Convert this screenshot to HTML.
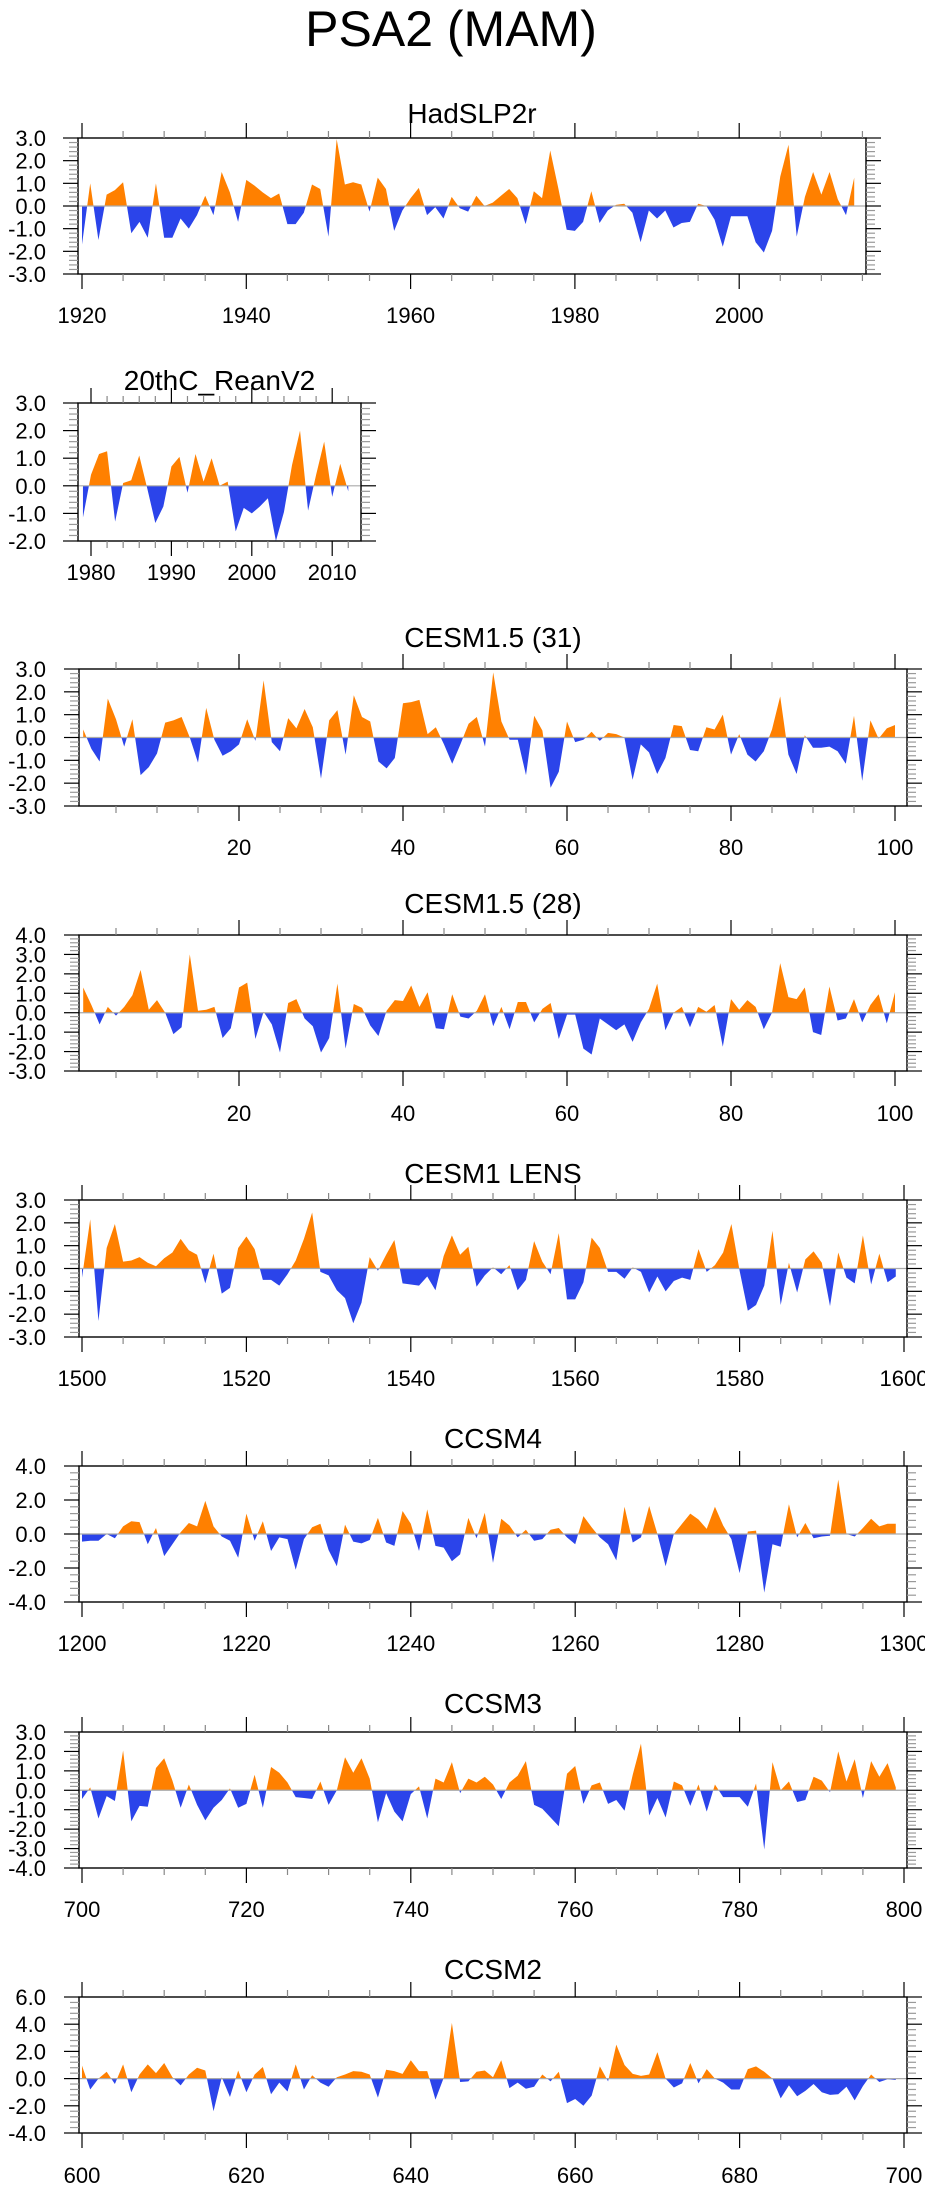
<!DOCTYPE html>
<html><head><meta charset="utf-8"><style>
html,body{margin:0;padding:0;background:#fff;}
svg{display:block;font-family:"Liberation Sans",Arial,sans-serif;}
</style></head><body>
<svg id="chart" width="925" height="2191" viewBox="0 0 925 2191" xmlns="http://www.w3.org/2000/svg">
<text x="451" y="46" font-size="50" text-anchor="middle" fill="#000">PSA2 (MAM)</text>
</svg>
<script>
const hadYears=[1920,2014];
const hadVals=[-1.7,1.0,-1.5,0.5,0.7,1.05,-1.2,-0.7,-1.4,1.0,-1.4,-1.4,-0.55,-1.0,-0.4,0.45,-0.4,1.5,0.6,-0.7,1.15,0.9,0.6,0.35,0.55,-0.8,-0.8,-0.3,0.95,0.75,-1.35,2.95,0.95,1.05,0.95,-0.25,1.25,0.75,-1.1,-0.2,0.35,0.8,-0.4,-0.05,-0.55,0.4,-0.1,-0.25,0.45,0.0,0.15,0.45,0.75,0.35,-0.8,0.65,0.35,2.45,0.75,-1.05,-1.1,-0.7,0.65,-0.75,-0.2,0.05,0.1,-0.3,-1.6,-0.2,-0.55,-0.2,-0.95,-0.75,-0.7,0.1,0.0,-0.6,-1.8,-0.45,-0.45,-0.45,-1.6,-2.05,-1.1,1.3,2.7,-1.35,0.4,1.5,0.5,1.5,0.3,-0.4,1.25];
const reanYears=[1979,2012];
const reanVals=[-1.15,0.4,1.15,1.25,-1.3,0.1,0.2,1.1,-0.1,-1.35,-0.75,0.7,1.05,-0.25,1.15,0.15,1.0,0.0,0.15,-1.65,-0.8,-1.0,-0.75,-0.45,-2.0,-0.95,0.75,2.0,-0.9,0.4,1.6,-0.4,0.8,-0.2];
const c31Years=[1,100];
const c31Vals=[0.35,-0.5,-1.05,1.7,0.8,-0.4,0.8,-1.65,-1.3,-0.7,0.65,0.75,0.9,0.0,-1.1,1.3,-0.1,-0.8,-0.6,-0.3,0.8,-0.15,2.5,-0.2,-0.6,0.85,0.4,1.25,0.45,-1.8,0.75,1.2,-0.75,1.85,0.9,0.7,-1.05,-1.35,-0.9,1.5,1.55,1.65,0.15,0.45,-0.3,-1.15,-0.3,0.6,0.9,-0.4,2.85,0.7,-0.1,-0.1,-1.65,0.95,0.3,-2.2,-1.5,0.7,-0.2,-0.1,0.25,-0.15,0.2,0.15,0.0,-1.85,-0.3,-0.65,-1.6,-0.9,0.55,0.5,-0.55,-0.6,0.45,0.35,1.0,-0.75,0.15,-0.75,-1.05,-0.6,0.35,1.8,-0.75,-1.6,0.1,-0.45,-0.45,-0.4,-0.6,-1.15,0.95,-1.9,0.75,-0.05,0.4,0.55];
const c28Years=[1,100];
const c28Vals=[1.3,0.4,-0.6,0.3,-0.15,0.3,0.9,2.2,0.15,0.65,0.0,-1.1,-0.75,3.0,0.1,0.15,0.3,-1.3,-0.8,1.3,1.55,-1.35,0.05,-0.6,-2.05,0.5,0.7,-0.3,-0.7,-2.05,-1.3,1.5,-1.85,0.45,0.25,-0.65,-1.2,0.1,0.65,0.6,1.4,0.3,1.05,-0.8,-0.85,0.95,-0.2,-0.3,0.1,0.95,-0.7,0.3,-0.85,0.55,0.55,-0.5,0.2,0.5,-1.35,-0.1,-0.1,-1.85,-2.15,-0.3,-0.6,-0.9,-0.6,-1.5,-0.5,0.2,1.5,-0.9,0.0,0.3,-0.75,0.3,0.05,0.4,-1.75,0.7,0.15,0.65,0.3,-0.85,0.0,2.55,0.8,0.7,1.3,-1.0,-1.15,1.35,-0.4,-0.3,0.7,-0.5,0.4,0.95,-0.55,1.05];
const lensYears=[1500,1599];
const lensVals=[-0.4,2.15,-2.3,0.9,1.95,0.3,0.35,0.5,0.25,0.1,0.45,0.7,1.3,0.8,0.6,-0.65,0.65,-1.1,-0.85,0.9,1.4,0.85,-0.5,-0.5,-0.75,-0.25,0.35,1.3,2.45,-0.15,-0.3,-0.95,-1.3,-2.4,-1.5,0.5,-0.1,0.6,1.25,-0.65,-0.7,-0.75,-0.35,-0.95,0.55,1.45,0.6,0.95,-0.8,-0.3,0.05,-0.25,0.15,-0.95,-0.5,1.2,0.3,-0.25,1.55,-1.35,-1.35,-0.6,1.35,0.9,-0.15,-0.15,-0.45,0.05,-0.15,-1.05,-0.35,-1.0,-0.55,-0.4,-0.5,0.85,-0.15,0.15,0.7,1.95,-0.1,-1.85,-1.6,-0.75,1.65,-1.6,0.25,-1.05,0.4,0.75,0.25,-1.65,0.7,-0.4,-0.65,1.45,-0.7,0.65,-0.6,-0.35];
const ccsm4Years=[1200,1299];
const ccsm4Vals=[-0.45,-0.4,-0.4,0.0,-0.25,0.45,0.75,0.7,-0.6,0.35,-1.3,-0.6,0.1,0.65,0.45,1.95,0.45,-0.15,-0.4,-1.4,1.2,-0.4,0.75,-1.0,-0.2,-0.3,-2.1,-0.3,0.4,0.6,-0.95,-1.9,0.55,-0.45,-0.55,-0.35,0.95,-0.5,-0.7,1.35,0.6,-1.0,1.45,-0.7,-0.8,-1.6,-1.2,0.95,-0.25,1.25,-1.7,0.9,0.5,-0.2,0.25,-0.4,-0.3,0.25,0.35,-0.2,-0.6,1.05,0.4,-0.2,-0.6,-1.55,1.6,-0.5,-0.2,1.65,0.0,-1.9,0.0,0.6,1.2,0.85,0.3,1.6,0.5,-0.3,-2.3,0.15,0.2,-3.45,-0.6,-0.75,1.75,-0.2,0.65,-0.25,-0.15,-0.1,3.2,0.0,-0.15,0.35,0.9,0.45,0.6,0.6];
const ccsm3Years=[700,799];
const ccsm3Vals=[-0.45,0.15,-1.45,-0.3,-0.55,2.05,-1.6,-0.8,-0.85,1.15,1.65,0.5,-0.9,0.3,-0.75,-1.55,-0.9,-0.5,0.1,-0.9,-0.7,0.8,-0.9,1.2,0.9,0.4,-0.35,-0.4,-0.45,0.45,-0.75,0.0,1.7,0.9,1.65,0.6,-1.65,-0.15,-1.1,-1.6,-0.2,0.2,-1.45,0.6,0.4,1.45,-0.15,0.6,0.4,0.7,0.3,-0.45,0.4,0.75,1.5,-0.75,-0.95,-1.4,-1.85,0.85,1.25,-0.7,0.25,0.4,-0.7,-0.5,-1.05,0.8,2.4,-1.3,-0.4,-1.4,0.45,0.25,-0.8,0.3,-1.1,0.3,-0.35,-0.35,-0.35,-0.85,0.35,-3.05,1.45,0.0,0.45,-0.6,-0.5,0.7,0.5,-0.1,2.0,0.45,1.6,-0.4,1.5,0.7,1.4,0.15];
const ccsm2Years=[600,699];
const ccsm2Vals=[0.95,-0.8,0.0,0.5,-0.4,1.05,-1.0,0.3,1.05,0.4,1.15,0.1,-0.5,0.3,0.8,0.6,-2.4,0.1,-1.35,0.6,-1.0,0.3,0.85,-1.15,-0.3,-0.95,1.05,-0.8,0.25,-0.3,-0.6,0.1,0.3,0.55,0.5,0.3,-1.4,0.65,0.55,0.35,1.35,0.55,0.55,-1.55,0.05,4.1,-0.25,-0.2,0.5,0.6,0.1,1.35,-0.7,-0.3,-0.75,-0.6,0.3,-0.2,0.5,-1.8,-1.5,-2.0,-1.25,0.9,-0.2,2.5,1.0,0.35,0.2,0.3,1.95,0.0,-0.65,-0.35,1.15,-0.35,0.7,0.0,-0.3,-0.8,-0.8,0.7,0.9,0.5,0.0,-1.45,-0.5,-1.3,-0.9,-0.4,-1.0,-1.2,-1.15,-0.6,-1.6,-0.55,0.3,-0.25,-0.05,-0.1];
const hadXTicks=[1920,1940,1960,1980,2000];
const reanXTicks=[1980,1990,2000,2010];
const c31XTicks=[20,40,60,80,100];
const lensXTicks=[1500,1520,1540,1560,1580,1600];
const ccsm4XTicks=[1200,1220,1240,1260,1280,1300];
const ccsm3XTicks=[700,720,740,760,780,800];
const ccsm2XTicks=[600,620,640,660,680,700];

const NS="http://www.w3.org/2000/svg";
const svg=document.getElementById('chart');
function mk(tag,attrs,parent){const e=document.createElementNS(NS,tag);for(const k in attrs)e.setAttribute(k,attrs[k]);(parent||svg).appendChild(e);return e;}

function panel(o,idx){
  const g=mk('g',{});
  
  
  const X=v=>o.x0+(v-o.v0)*o.sx;
  const Y=v=>o.top+(o.ymax-v)/(o.ymax-o.ymin)*(o.bot-o.top);
  const t=mk('text',{x:(o.L+o.R)/2,y:o.titleY+10,'font-size':28,'text-anchor':'middle',fill:'#000'},g);
  t.textContent=o.title;
  
  
  const n=o.vals.length;
  let d='M'+X(o.start)+','+Y(0);
  for(let i=0;i<n;i++)d+=' L'+X(o.start+i).toFixed(2)+','+Y(o.vals[i]).toFixed(2);
  d+=' L'+X(o.start+n-1)+','+Y(0)+' Z';
  const cidA='ca'+idx,cidB='cb'+idx;
  const defs=mk('defs',{},g);
  const ca=mk('clipPath',{id:cidA},defs);mk('rect',{x:o.L,y:o.top,width:o.R-o.L,height:Y(0)-o.top},ca);
  const cb=mk('clipPath',{id:cidB},defs);mk('rect',{x:o.L,y:Y(0),width:o.R-o.L,height:o.bot-Y(0)},cb);
  const pa=mk('path',{d:d,fill:'#ff8000','clip-path':'url(#'+cidA+')'},g);
  
  
  const pb=mk('path',{d:d,fill:'#2b44ea','clip-path':'url(#'+cidB+')'},g);
  
  
  mk('line',{x1:o.L,x2:o.R,y1:Y(0),y2:Y(0),stroke:'#aaa','stroke-width':1.2},g);
  const fr=mk('rect',{x:o.L,y:o.top,width:o.R-o.L,height:o.bot-o.top,fill:'none',stroke:'#000','stroke-width':1.4},g);
  
  
  const nMinor=Math.round((o.ymax-o.ymin)/o.ystep*5);
  for(let k=0;k<=nMinor;k++){
    const v=o.ymin+k*o.ystep/5;
    const major=k%5===0;
    const y=Y(v);
    const len=major?15:9,col=major?'#000':'#999';
    mk('line',{x1:o.L-len,x2:o.L,y1:y,y2:y,stroke:col,'stroke-width':1.2},g);
    mk('line',{x1:o.R,x2:o.R+len,y1:y,y2:y,stroke:col,'stroke-width':1.2},g);
    if(major){
      const vv=Math.round(v*10)/10;
      const tl=mk('text',{x:46,y:y+8,'font-size':22,'text-anchor':'end',fill:'#000'},g);
      tl.textContent=(vv===0?0:vv).toFixed(1);
      
      }
  }
  const vStart=Math.ceil((o.v0+(o.L-o.x0)/o.sx)/o.xminor)*o.xminor;
  for(let v=vStart;X(v)<=o.R+0.5;v+=o.xminor){
    const major=v%o.xmajor===0;const x=X(v);const len=major?15:7;const col=major?'#000':'#888';
    mk('line',{x1:x,x2:x,y1:o.top-len,y2:o.top,stroke:col,'stroke-width':1.2},g);
    mk('line',{x1:x,x2:x,y1:o.bot,y2:o.bot+len,stroke:col,'stroke-width':1.2},g);
  }
  for(const v of o.ticks){
    const tl=mk('text',{x:X(v),y:o.labelY+8,'font-size':22,'text-anchor':'middle',fill:'#000'},g);
    tl.textContent=String(v);
    
    
  }
}
const P=[
 {name:'hadslp2r',title:'HadSLP2r',vals:hadVals,start:hadYears[0],L:78,R:866,top:138,bot:274,ymin:-3,ymax:3,ystep:1,x0:82,v0:1920,sx:8.215,xmajor:20,xminor:5,ticks:hadXTicks,titleY:113,labelY:315},
 {name:'20thc-reanv2',title:'20thC_ReanV2',vals:reanVals,start:reanYears[0],L:78,R:361,top:403,bot:541,ymin:-2,ymax:3,ystep:1,x0:91,v0:1980,sx:8.04,xmajor:10,xminor:2,ticks:reanXTicks,titleY:380,labelY:572},
 {name:'cesm15-31',title:'CESM1.5 (31)',vals:c31Vals,start:c31Years[0],L:79,R:907,top:669,bot:806,ymin:-3,ymax:3,ystep:1,x0:75,v0:0,sx:8.2,xmajor:20,xminor:5,ticks:c31XTicks,titleY:637,labelY:847},
 {name:'cesm15-28',title:'CESM1.5 (28)',vals:c28Vals,start:c28Years[0],L:79,R:907,top:935,bot:1071,ymin:-3,ymax:4,ystep:1,x0:75,v0:0,sx:8.2,xmajor:20,xminor:5,ticks:c31XTicks,titleY:903,labelY:1113},
 {name:'cesm1-lens',title:'CESM1 LENS',vals:lensVals,start:lensYears[0],L:79,R:907,top:1200,bot:1337,ymin:-3,ymax:3,ystep:1,x0:82,v0:1500,sx:8.22,xmajor:20,xminor:5,ticks:lensXTicks,titleY:1173,labelY:1378},
 {name:'ccsm4',title:'CCSM4',vals:ccsm4Vals,start:ccsm4Years[0],L:79,R:907,top:1466,bot:1602,ymin:-4,ymax:4,ystep:2,x0:82,v0:1200,sx:8.22,xmajor:20,xminor:5,ticks:ccsm4XTicks,titleY:1438,labelY:1643},
 {name:'ccsm3',title:'CCSM3',vals:ccsm3Vals,start:ccsm3Years[0],L:79,R:907,top:1732,bot:1868,ymin:-4,ymax:3,ystep:1,x0:82,v0:700,sx:8.22,xmajor:20,xminor:5,ticks:ccsm3XTicks,titleY:1703,labelY:1909},
 {name:'ccsm2',title:'CCSM2',vals:ccsm2Vals,start:ccsm2Years[0],L:79,R:907,top:1997,bot:2133,ymin:-4,ymax:6,ystep:2,x0:82,v0:600,sx:8.22,xmajor:20,xminor:5,ticks:ccsm2XTicks,titleY:1969,labelY:2175}
];
P.forEach((o,i)=>panel(o,i));
</script>
</body></html>
